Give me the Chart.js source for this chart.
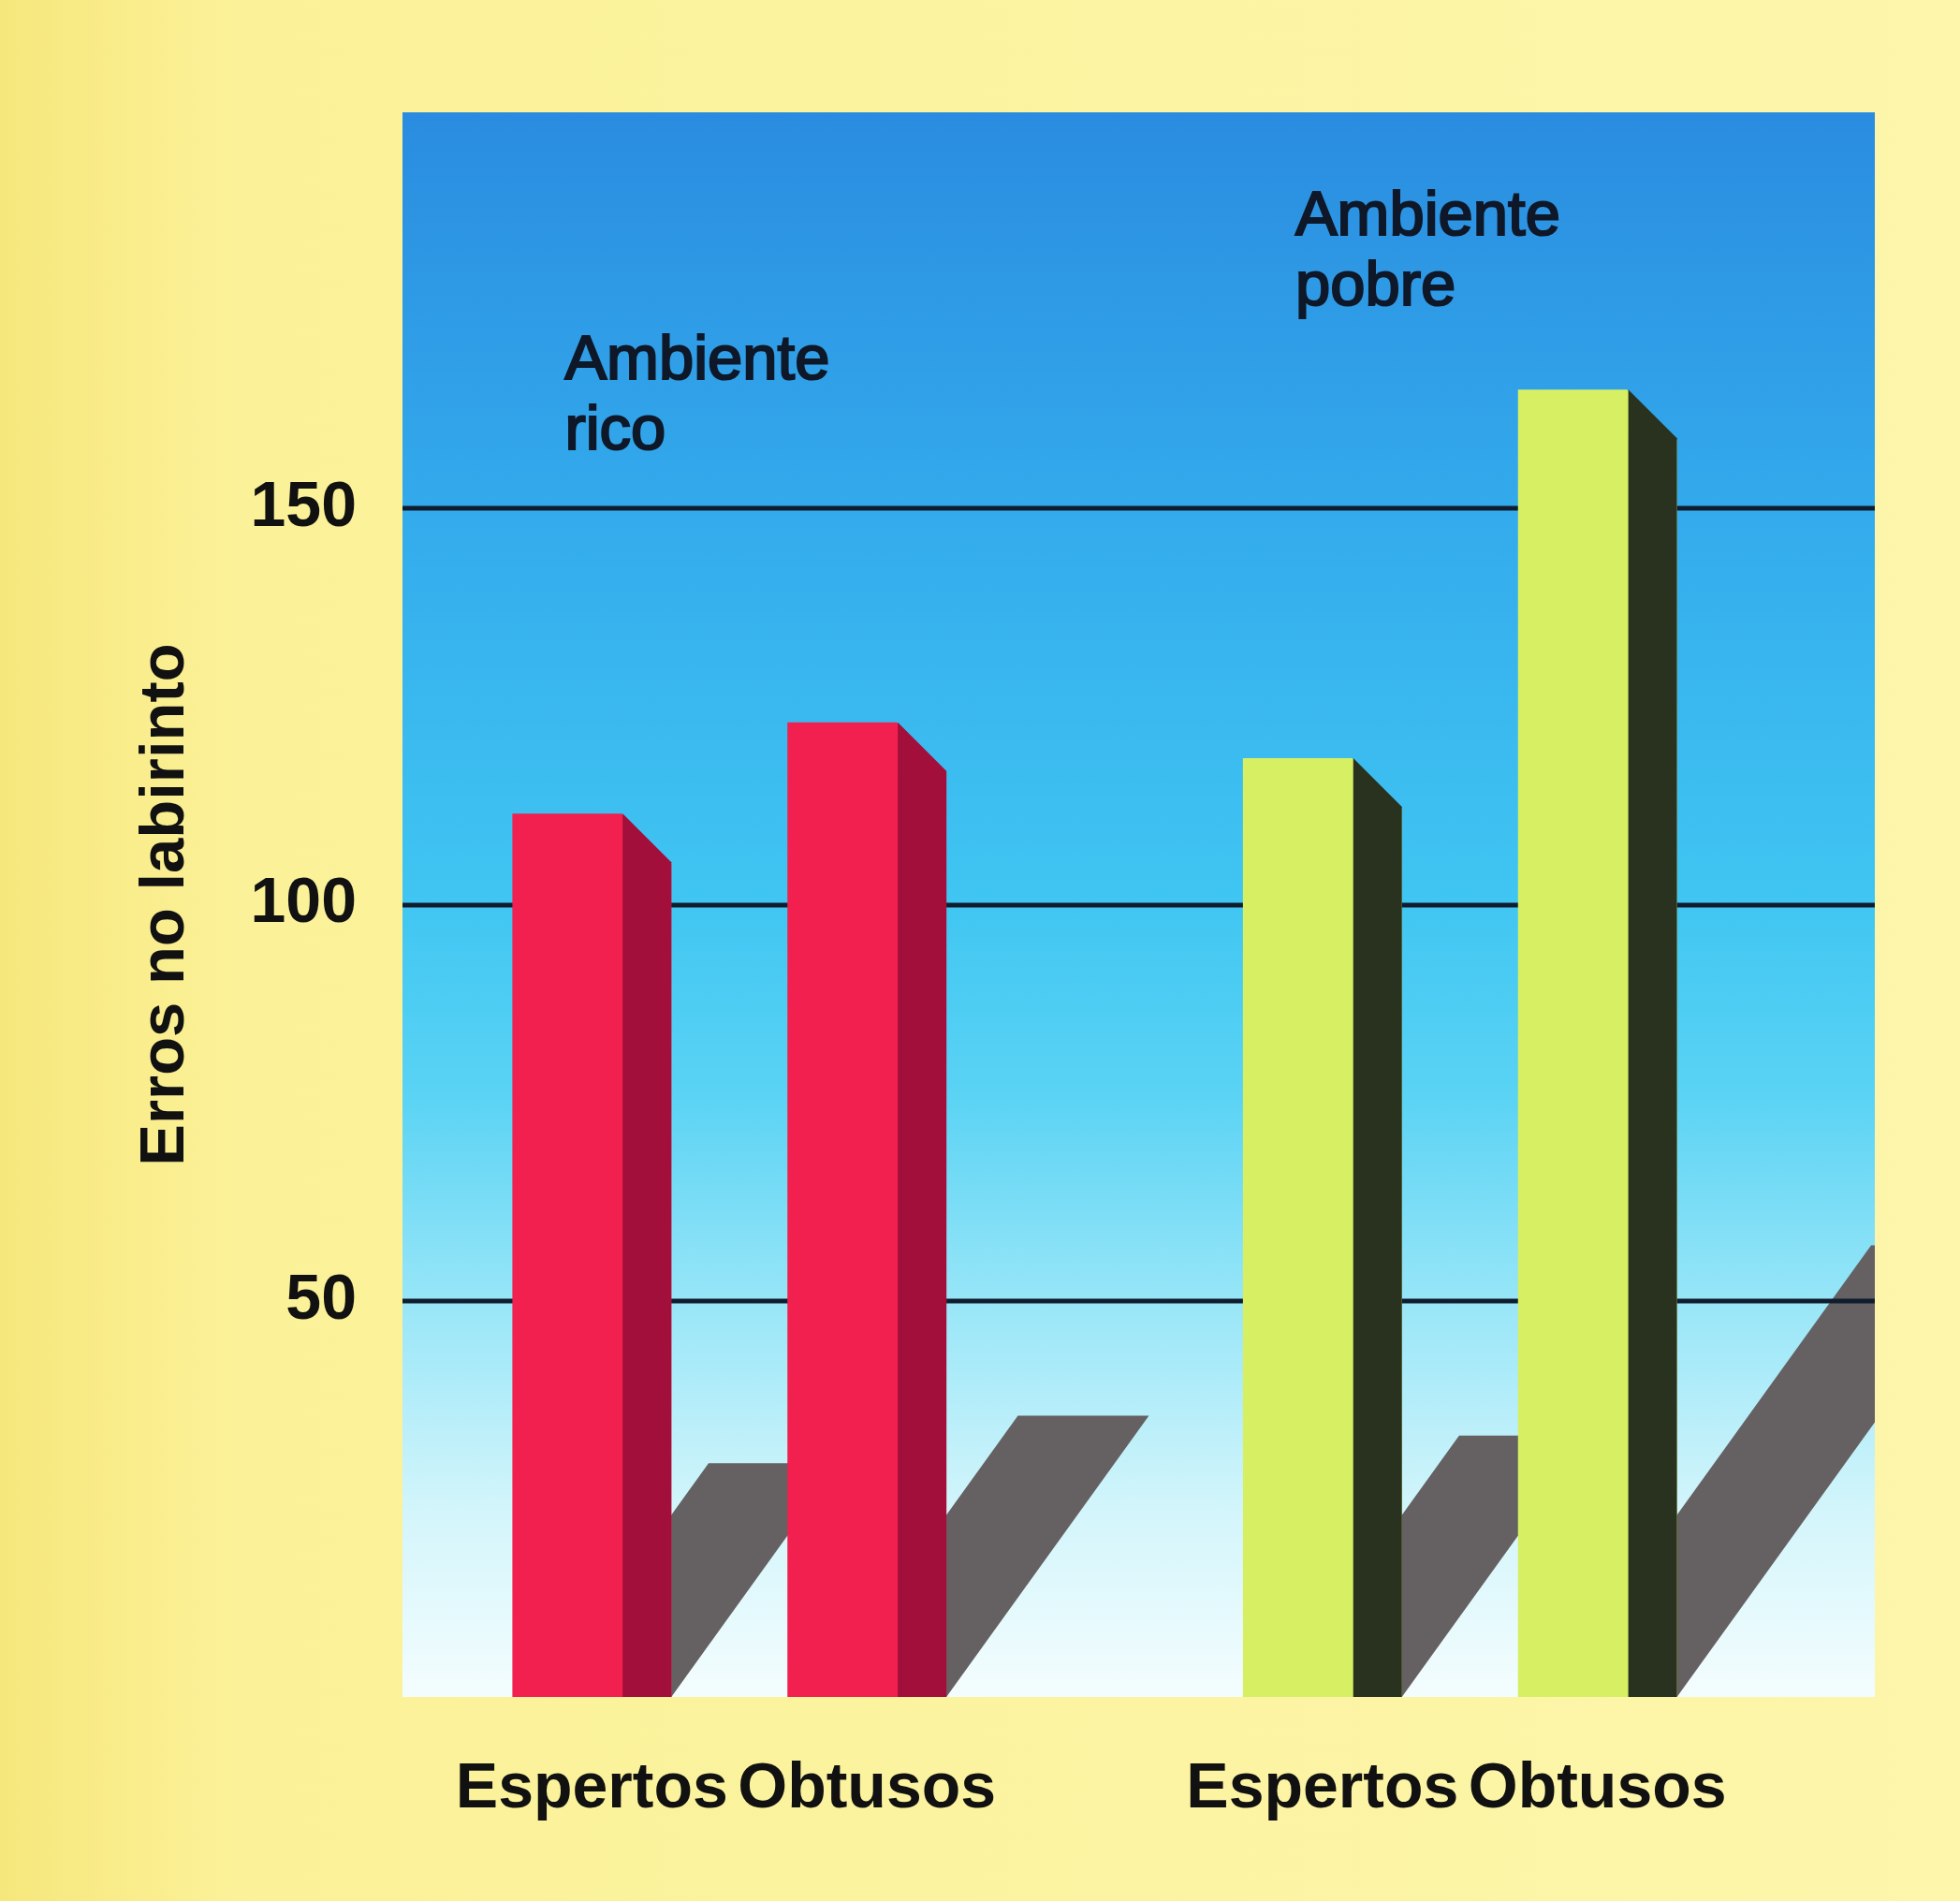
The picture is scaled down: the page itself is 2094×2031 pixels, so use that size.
<!DOCTYPE html>
<html>
<head>
<meta charset="utf-8">
<script src="https://cdn.jsdelivr.net/npm/chart.js@4.4.0/dist/chart.umd.min.js"></script>
<style>
  html, body { margin: 0; padding: 0; background: #fbf3a0; }
  #wrap { width: 2094px; height: 2031px; }
</style>
</head>
<body>
<div id="wrap"><canvas id="chartErros"></canvas></div>
<script>
// dados
const ambientes = ['Ambiente rico', 'Ambiente pobre'];
const grupos = ['Espertos', 'Obtusos'];
const espertos = [111.5, 118.5];
const obtusos = [123, 165];
// altura (em erros) onde termina a sombra de cada barra
const sombraEspertos = [29.5, 33];
const sombraObtusos = [35.5, 57];
const yTicks = [50, 100, 150];

const corFrente = ['#f1204f', '#d6ef63'];
const corLado = ['#a10f3a', '#29311f'];
const fonte = 'Liberation Sans';

const LADO = 52;      // largura da face lateral
const INCL = 0.72;    // inclinação da sombra
const LARG_SOMBRA = 140;

function painel(chart) {
  const a = chart.chartArea;
  return { left: a.left + 41, right: a.right + 53, top: a.top, bottom: a.bottom };
}

function gradPainel(ctx, p) {
  const g = ctx.createLinearGradient(0, p.top, 0, p.bottom);
  g.addColorStop(0, '#2a8ce0');
  g.addColorStop(0.25, '#33aaec');
  g.addColorStop(0.5, '#40c6f2');
  g.addColorStop(0.62, '#5ad3f4');
  g.addColorStop(0.76, '#9ce7f8');
  g.addColorStop(0.88, '#d2f5fb');
  g.addColorStop(1, '#f4fdfe');
  return g;
}

const desenho3d = {
  id: 'desenho3d',
  beforeDraw(chart) {
    const { ctx, width, height } = chart;
    const p = painel(chart);
    ctx.save();
    const gy = ctx.createLinearGradient(0, 0, width, 0);
    gy.addColorStop(0, '#f6e77c');
    gy.addColorStop(0.12, '#fbf198');
    gy.addColorStop(1, '#fdf6ab');
    ctx.fillStyle = gy;
    ctx.fillRect(0, 0, width, height);
    ctx.fillStyle = gradPainel(ctx, p);
    ctx.fillRect(p.left, p.top, p.right - p.left, p.bottom - p.top);
    ctx.restore();
  },
  beforeDatasetsDraw(chart) {
    const { ctx } = chart;
    const p = painel(chart);
    const y = chart.scales.y;
    const base = y.getPixelForValue(0);
    ctx.save();
    ctx.beginPath();
    ctx.rect(p.left, p.top, p.right - p.left, p.bottom - p.top);
    ctx.clip();
    // sombras
    chart.data.datasets.forEach((ds, i) => {
      chart.getDatasetMeta(i).data.forEach((bar, j) => {
        const xr = bar.x + bar.width / 2;
        const topo = y.getPixelForValue(ds.sombra[j]);
        const dx = INCL * (base - topo);
        ctx.fillStyle = '#656162';
        ctx.beginPath();
        ctx.moveTo(xr, base);
        ctx.lineTo(xr + dx, topo);
        ctx.lineTo(xr + dx - LARG_SOMBRA, topo);
        ctx.lineTo(xr - LARG_SOMBRA, base);
        ctx.closePath();
        ctx.fill();
      });
    });
    // linhas de grade
    ctx.strokeStyle = '#0f1d2e';
    ctx.lineWidth = 5;
    yTicks.forEach(v => {
      const py = Math.round(y.getPixelForValue(v));
      ctx.beginPath();
      ctx.moveTo(p.left, py);
      ctx.lineTo(p.right, py);
      ctx.stroke();
    });
    ctx.restore();
  },
  afterDatasetsDraw(chart) {
    const { ctx } = chart;
    const p = painel(chart);
    const a = chart.chartArea;
    ctx.save();
    // faces laterais
    chart.data.datasets.forEach((ds, i) => {
      chart.getDatasetMeta(i).data.forEach((bar, j) => {
        const xr = bar.x + bar.width / 2;
        const topo = bar.y, base = bar.base;
        // apaga o canto de cima (fundo do painel), um pouco além da diagonal
        ctx.fillStyle = gradPainel(ctx, p);
        ctx.beginPath();
        ctx.moveTo(xr - LADO - 2, topo - 1);
        ctx.lineTo(xr + 1, topo - 1);
        ctx.lineTo(xr + 1, topo + LADO + 3);
        ctx.closePath();
        ctx.fill();
        ctx.fillStyle = corLado[j];
        ctx.beginPath();
        ctx.moveTo(xr - LADO, topo);
        ctx.lineTo(xr, topo + LADO);
        ctx.lineTo(xr, base);
        ctx.lineTo(xr - LADO, base);
        ctx.closePath();
        ctx.fill();
      });
    });

    // rótulos abaixo das barras
    ctx.fillStyle = '#111111';
    ctx.font = 'bold 68px "' + fonte + '"';
    ctx.textAlign = 'center';
    ctx.textBaseline = 'alphabetic';
    chart.data.datasets.forEach((ds, i) => {
      chart.getDatasetMeta(i).data.forEach(bar => {
        ctx.fillText(ds.label, bar.x, a.bottom + 118);
      });
    });

    // nomes dos ambientes
    const m0 = chart.getDatasetMeta(0).data;
    const topoTexto = [285, 131];
    ctx.font = '67px "' + fonte + '"';
    ctx.textAlign = 'left';
    ctx.fillStyle = '#0e1828';
    ctx.strokeStyle = '#0e1828';
    ctx.lineWidth = 2.2;
    ambientes.forEach((amb, j) => {
      const linhas = amb.split(' ');
      const x = m0[j].x - m0[j].width / 2 + 56;
      linhas.forEach((l, k) => {
        const yb = a.top + topoTexto[j] + k * 75;
        ctx.fillText(l, x, yb);
        ctx.strokeText(l, x, yb);
      });
    });
    ctx.restore();
  }
};

const ctx = document.getElementById('chartErros').getContext('2d');
new Chart(ctx, {
  type: 'bar',
  data: {
    labels: ambientes,
    datasets: [
      { label: grupos[0], data: espertos, sombra: sombraEspertos, backgroundColor: corFrente, borderWidth: 0 },
      { label: grupos[1], data: obtusos, sombra: sombraObtusos, backgroundColor: corFrente, borderWidth: 0 }
    ]
  },
  options: {
    responsive: true,
    maintainAspectRatio: false,
    animation: false,
    categoryPercentage: 0.753,
    barPercentage: 0.578,
    layout: { padding: { left: 137, right: 144, top: 120, bottom: 218 } },
    plugins: { legend: { display: false }, tooltip: { enabled: false } },
    scales: {
      x: { display: false },
      y: {
        min: 0,
        max: 200,
        grid: { display: false },
        border: { display: false },
        afterFit: s => { s.width = 252; },
        ticks: {
          stepSize: 50,
          autoSkip: false,
          padding: 0,
          color: '#111111',
          font: { family: fonte, size: 68, weight: 'bold' },
          callback: v => yTicks.includes(v) ? v : ''
        },
        title: {
          display: true,
          text: 'Erros no labirinto',
          color: '#111111',
          font: { family: fonte, size: 67, weight: 'bold' },
          padding: { top: 0, bottom: 0 }
        }
      }
    }
  },
  plugins: [desenho3d]
});
</script>
</body>
</html>
